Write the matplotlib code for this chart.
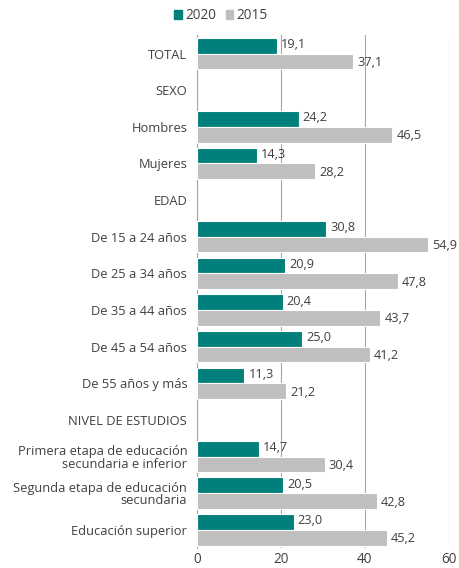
import matplotlib.pyplot as plt
import numpy as np

# categories, top to bottom (None = section header with no bars)
categories = ['TOTAL', 'SEXO', 'Hombres', 'Mujeres', 'EDAD',
              'De 15 a 24 años', 'De 25 a 34 años', 'De 35 a 44 años',
              'De 45 a 54 años', 'De 55 años y más', 'NIVEL DE ESTUDIOS',
              'Primera etapa de educación\nsecundaria e inferior',
              'Segunda etapa de educación\nsecundaria',
              'Educación superior']
values_2020 = [19.1, None, 24.2, 14.3, None, 30.8, 20.9, 20.4, 25.0, 11.3, None, 14.7, 20.5, 23.0]
values_2015 = [37.1, None, 46.5, 28.2, None, 54.9, 47.8, 43.7, 41.2, 21.2, None, 30.4, 42.8, 45.2]
xticks = [0, 20, 40, 60]

teal = '#007f7b'
grey = '#bfbfbf'
txt = '#404040'

plt.rcParams['font.family'] = ['Open Sans', 'DejaVu Sans']

fig = plt.figure(figsize=(4.6, 5.68), dpi=100)
ax = fig.add_axes([0.428, 0.035, 0.548, 0.903])

n = len(categories)
y = np.arange(n)
h = 0.43

def fmt(v):
    return '{:.1f}'.format(v).replace('.', ',')

for i in range(n):
    if values_2020[i] is None:
        continue
    ax.barh(y[i] - h / 2, values_2020[i], height=h, color=teal, edgecolor='white', linewidth=0.8, zorder=3)
    ax.barh(y[i] + h / 2, values_2015[i], height=h, color=grey, edgecolor='white', linewidth=0.8, zorder=3)
    ax.text(values_2020[i] + 1.0, y[i] - h / 2 - 0.03, fmt(values_2020[i]), va='center', ha='left',
            fontsize=9.2, color=txt, zorder=4)
    ax.text(values_2015[i] + 1.0, y[i] + h / 2 + 0.03, fmt(values_2015[i]), va='center', ha='left',
            fontsize=9.2, color=txt, zorder=4)

ax.set_ylim(n - 0.5, -0.5)
ax.set_xlim(0, 60)
ax.set_yticks(y)
ax.set_yticklabels(categories, fontsize=9.3, color=txt, linespacing=0.95)
ax.set_xticks(xticks)
ax.set_xticklabels([str(t) for t in xticks], fontsize=9.8, color=txt)
ax.tick_params(axis='y', length=0, pad=7)
ax.tick_params(axis='x', length=0, pad=3)
for s in ['top', 'right', 'bottom']:
    ax.spines[s].set_visible(False)
ax.spines['left'].set_color('#a6a6a6')
ax.spines['left'].set_linewidth(0.8)
ax.grid(axis='x', color='#a6a6a6', linewidth=0.8, zorder=0)
ax.grid(axis='y', visible=False)

# legend above the plot
handles = [plt.Rectangle((0, 0), 1, 1, color=teal), plt.Rectangle((0, 0), 1, 1, color=grey)]
fig.legend(handles, ['2020', '2015'], loc='center', bbox_to_anchor=(0.48, 0.972), ncol=2,
           frameon=False, fontsize=9.8, handlelength=0.55, handleheight=0.55, handletextpad=0.25,
           columnspacing=0.7, labelcolor=txt)

fig.savefig('out.png', dpi=100)
